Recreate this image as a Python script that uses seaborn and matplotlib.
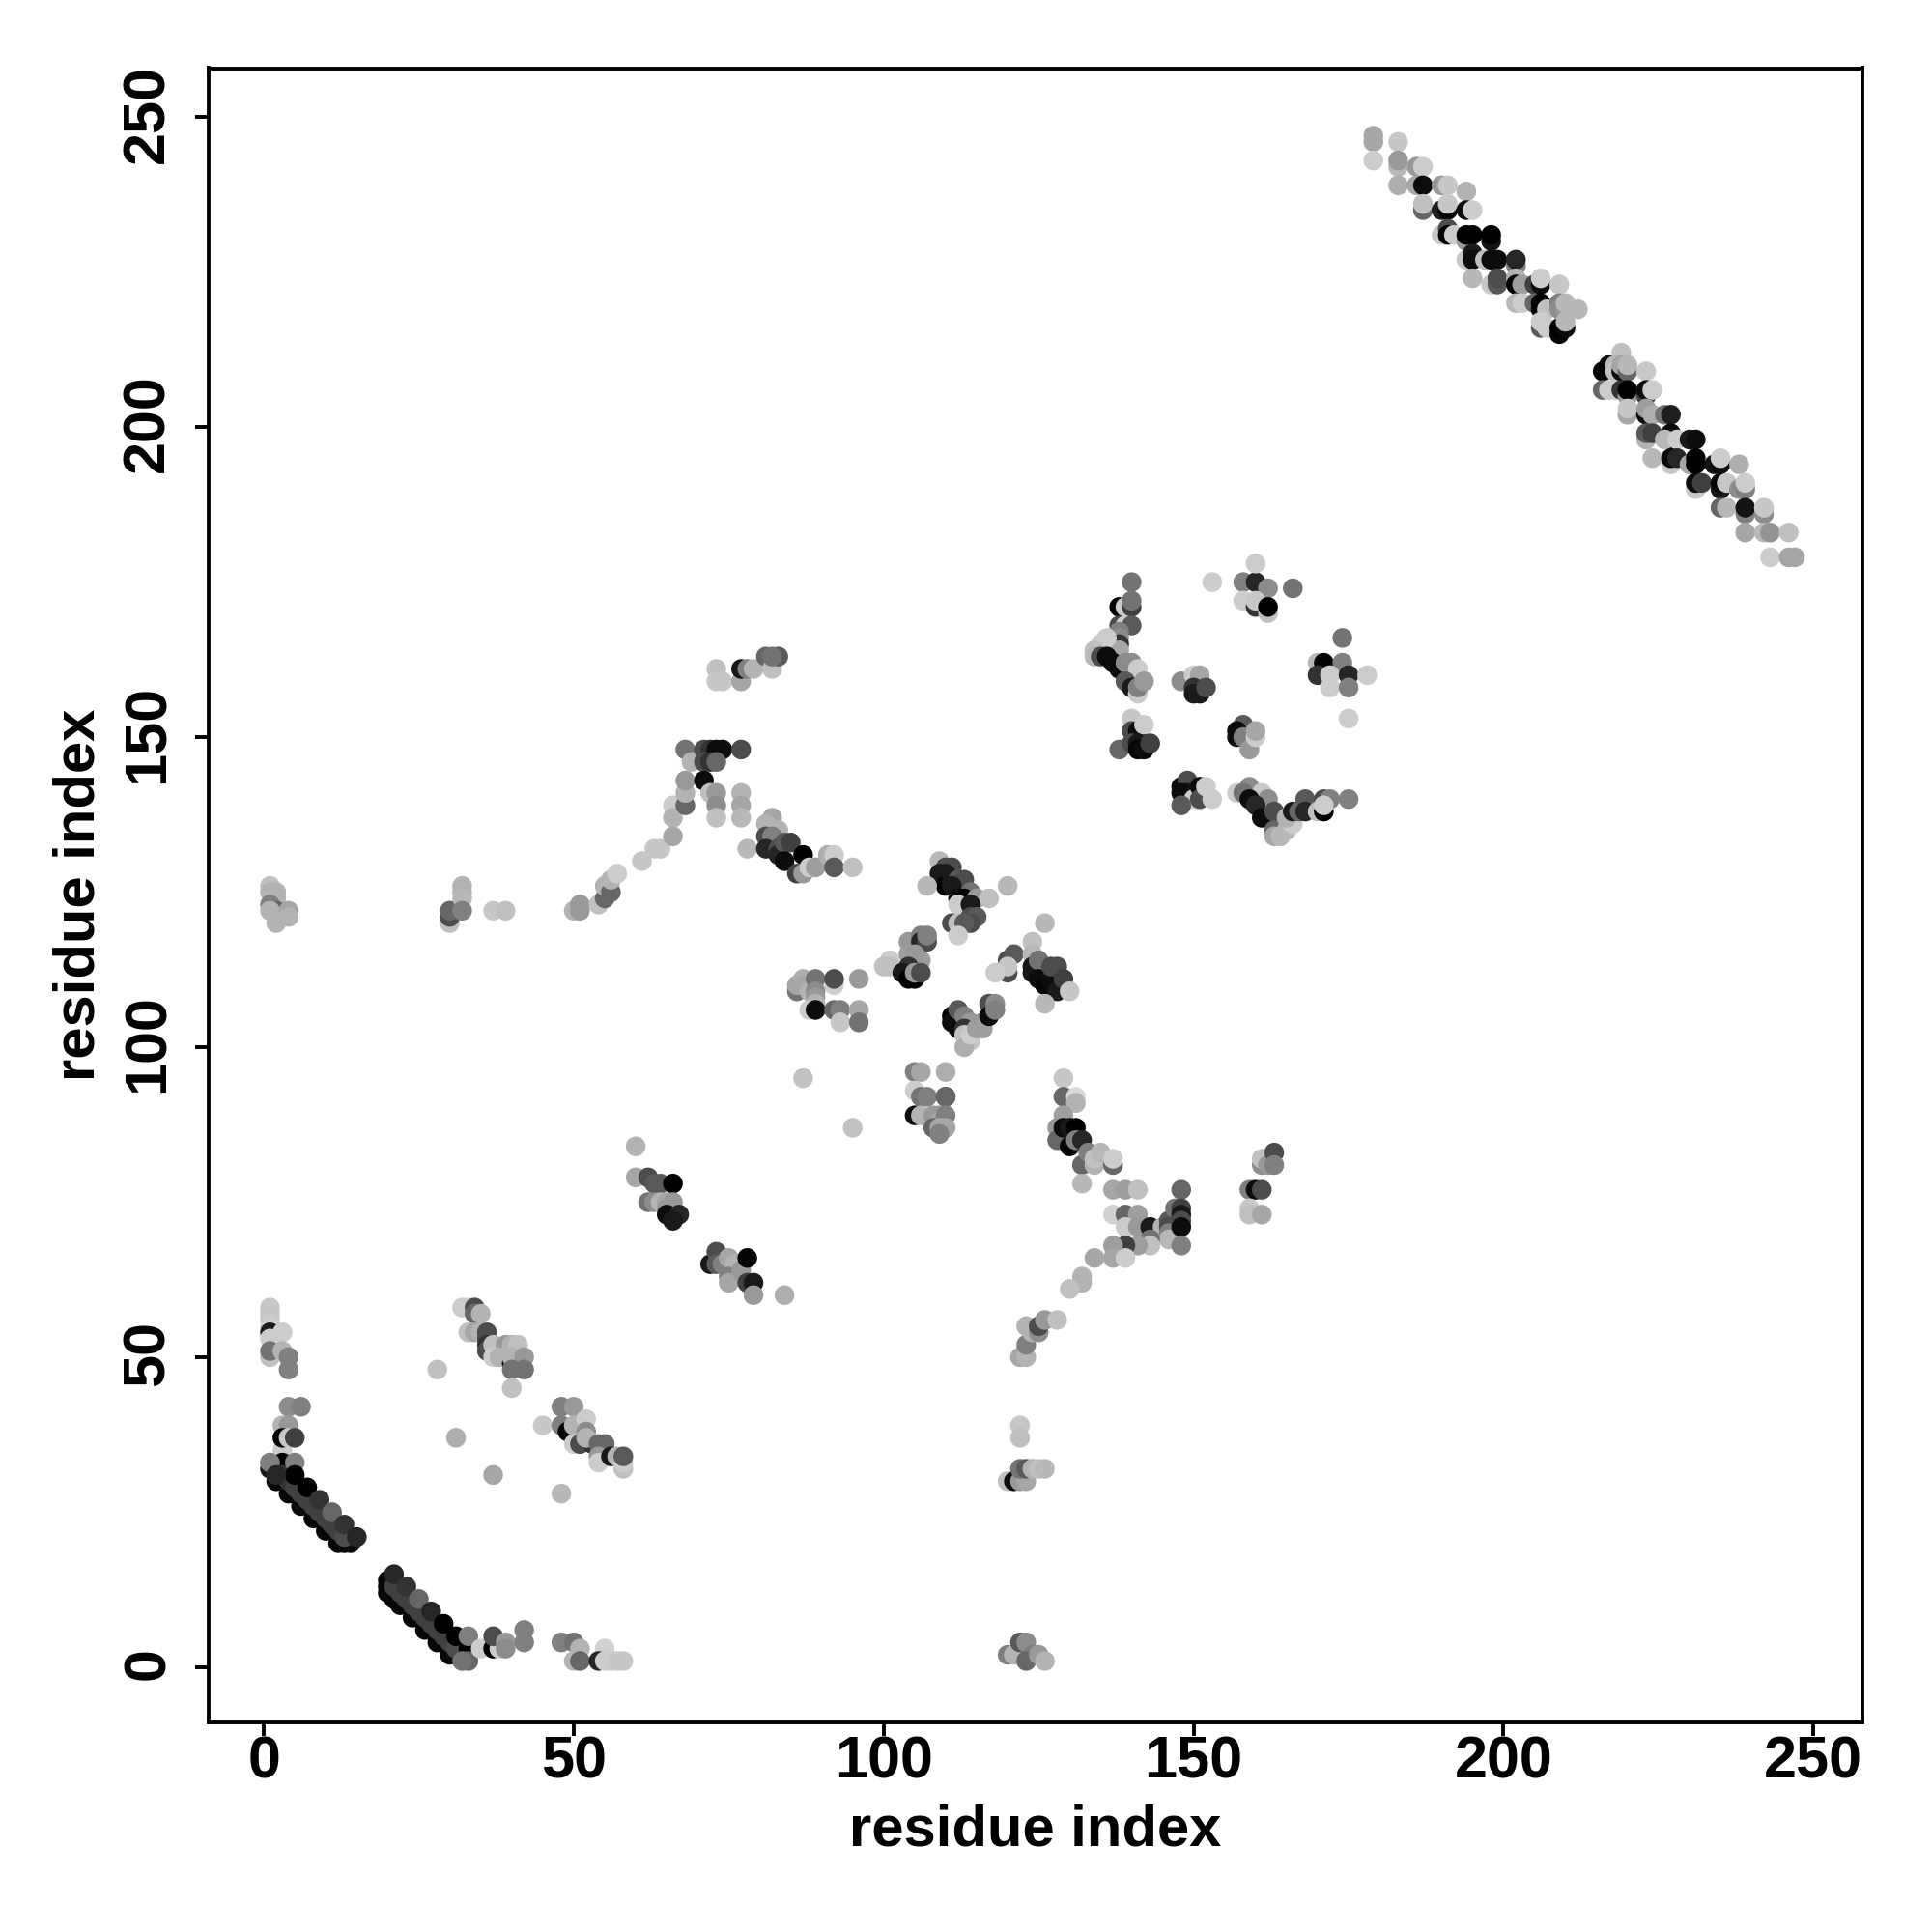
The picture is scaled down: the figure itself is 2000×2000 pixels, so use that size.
import pandas as pd
import seaborn as sns
import matplotlib
matplotlib.use("Agg")
import matplotlib.pyplot as plt
from matplotlib.transforms import ScaledTranslation

# (residue i, residue j, grey level), one list per patch
band_low = [(1,33,.45),(1,32,.1),(2,32,.2),(3,35,.8),(3,34,.8),(2,30,.03),(3,33,0),(3,31,.2),(4,28,.03),(4,30,.2),(5,29,.25),
            (6,26,.05),(6,28,.25),(7,27,.25),(8,24,.03),(8,26,.25),(9,25,.25),(10,22,.03),(10,24,.25),(11,23,.25),
            (12,20,.03),(13,20,.03),(14,20,.05),(12,22,.25),(13,21,.3),(5,33,.5),(5,31,0),(7,29,0),(9,27,.2),(11,25,.4),(13,23,.2),(15,21,.15),
            (1,33,.5),(2,31,.15)]
band_mid = [(20,14,.03),(20,13,.03),(20,12,.03),(21,11,.03),(22,10,.03),(24,8,.03),(26,6,.03),(28,4,.03),(30,2,.03),(31,2,.05),
            (21,13,.25),(22,12,.25),(23,11,.25),(24,10,.25),(25,9,.25),(26,8,.25),(27,7,.25),(28,6,.25),(29,5,.25),(30,4,.25),(31,3,.3),
            (21,15,.15),(23,13,.2),(25,11,.4),(27,9,.15),(29,7,0),(31,5,0),(33,3,0),(33,5,.5),(33,1,.4),(32,1,.45)]
low_right = [(35,3,.8),(37,3,0),(38,3,.8),(37,5,.3),(39,4,.6),(39,3,.55),(42,6,.5),(42,4,.5),(48,4,.5),(50,4,.45),(50,1,.7),(51,3,.7),(51,1,.4),
             (55,3,.82),(54,1,.15),(55,1,.8),(56,1,.8),(57,1,.78),(58,1,.78)]
left_top = [(1,58,.78),(1,57,.78),(1,56,.78),(1,55,.8),(1,54,.1),(3,54,.8),(1,53,.8),(1,50,.75),(1,51,.45),(3,51,.7),(4,50,.5),(4,48,.5),
            (4,42,.55),(6,42,.5),(3,39,.7),(4,39,.6),(3,37,0),(4,37,.78),(5,37,.25)]
mid_a = [(28,48,.75),(31,37,.68),(37,31,.65),(48,28,.72),(45,39,.78),
         (32,58,.8),(33,58,.8),(34,58,.3),(34,57,.4),(35,57,.7),(33,54,.75),(34,54,.65),(35,54,.7),(36,54,.3),(36,53,.3),(36,52,.2),(36,51,.3),
         (37,52,.75),(39,52,.6),(40,52,.7),(41,52,.75),(37,50,.8),(38,50,.7),(40,49,0),(40,50,.7),(42,50,.6),(40,48,.45),(42,48,.45),(40,45,.75)]
mid_b = [(48,42,.5),(48,39,.5),(50,42,.6),(49,38,0),(50,39,.7),(52,40,.8),(52,38,.55),(50,36,.8),(51,36,.3),(53,36,.2),(52,37,.7),(54,36,.4),(55,36,.4),
         (54,34,.6),(54,33,.8),(56,34,.1),(57,34,.7),(58,32,.75),(58,33,.8),(58,34,.35)]
ring_left = [(1,126,.75),(1,125,.7),(2,125,.7),(2,124,.7),(1,123,.5),(2,122,.4),(1,122,.7),(2,120,.7),(4,122,.65),(4,121,.7),
             (30,120,.75),(30,121,.3),(30,122,.4),(32,126,.7),(32,125,.7),(32,124,.72),(32,122,.5),(37,122,.78),(39,122,.75),
             (50,122,.7),(51,122,.6),(51,123,.6),(54,123,.75),(55,124,.4),(55,126,.7),(56,125,.4),(56,127,.7),(57,128,.8)]
ramp = [(61,130,.78),(63,132,.78),(64,132,.78),(66,134,.65),(66,139,.8),(66,137,.7),(68,139,.4),(68,141,.7),(68,143,.6),(68,148,.45),(69,146,.7),
        (71,148,.3),(72,148,.2),(74,148,.05),(73,148,.05),(77,148,.3),(71,146,.3),(72,146,.2),(73,146,.4),(71,143,.05),(72,141,.75),(73,141,.6),(73,139,.55),(73,137,.75),
        (77,141,.7),(77,139,.65),(77,137,.72),(78,132,.72),
        (73,161,.75),(73,159,.78),(74,159,.78),(77,159,.65),(77,161,.1),(78,161,.5),(79,161,.7),(81,163,.4),(82,161,.75),(83,163,.35),(82,163,.45)]
strand_a = [(82,137,.65),(83,135,.7),(81,136,.7),(81,134,.3),(82,134,.5),(81,132,.15),(83,132,.3),(83,131,.15),(84,133,.35),(85,133,.25),(84,130,.05),
            (87,131,0),(86,128,.25),(87,128,.6),(88,129,.8),(89,129,.62),(91,131,.68),(92,131,.8),(92,129,.35),(95,129,.75)]
helix_a = [(109,130,.72),(110,129,.3),(111,129,.3),(109,128,.1),(110,128,.1),(110,126,0),(111,127,.1),(107,126,.72),(112,127,.35),(113,127,.3),(111,126,.1),
           (114,125,.45),(112,124,.05),(113,124,0),(115,124,.6),(117,124,.75),(120,126,.72),(112,123,.8),(114,123,.1),
           (111,120,.3),(112,120,.75),(114,121,.3),(115,121,.35),(114,120,.3),(113,120,.35),(112,118,.8)]
helix_b = [(104,117,.6),(106,118,.5),(106,117,.15),(107,117,.3),(107,118,.5),(104,115,.62),(106,114,.62),(105,115,.6),(101,114,.8),(100,113,.75),(101,113,.75),
           (104,113,.2),(103,112,.1),(104,111,0),(105,111,0),(105,112,.6),(106,112,.3)]
block_a = [(86,109,.45),(86,110,.65),(87,111,.68),(87,110,.65),(88,109,.7),(89,111,.45),(89,109,.55),(89,108,.6),(92,110,.8),(92,111,.3),(96,111,.6),
           (89,107,.7),(88,106,.8),(89,106,.05),(92,106,.4),(93,106,.5),(96,106,.65),(93,104,.78),(96,104,.45)]
block_b = [(111,105,0),(111,104,.05),(112,103,.05),(112,106,.35),(113,105,.5),(114,104,.6),(113,103,.2),(113,102,.75),(114,101,.78),(113,100,.68),(114,102,.8),
           (115,103,.62),(116,104,.6),(116,103,.62),(117,107,.3),(117,105,.05),(118,107,.55),(118,106,.5)]
helix_c = [(120,114,.3),(121,115,.35),(120,112,.3),(120,113,.78),(118,112,.8),(124,117,.75),(126,120,.72),(124,115,.72),(124,113,.1),(124,112,.1),(125,114,.45),
           (125,111,.05),(126,110,.03),(127,111,.05),(127,113,.3),(128,113,.3),(128,109,.1),(129,111,.25),(130,109,.78),(126,107,.72)]
scatter_a = [(87,95,.76),(95,87,.76),(105,96,.5),(106,96,.65),(110,96,.68),(105,93,.8),(106,92,.45),(107,92,.5),(105,89,.05),(106,89,.7),(108,89,.6),(109,89,.6),
             (110,92,.2),(110,92,.4),(109,88,.65),(108,87,.4),(110,89,.5),(109,87,.65),(110,87,.65),(109,86,.5)]
strand_b = [(129,95,.78),(129,92,.4),(131,92,.85),(131,91,.7),(129,89,.62),(128,87,.6),(128,85,.4),(129,87,.05),(130,87,.1),(131,87,0),(130,84,.02),(131,85,.5),(132,85,.15),
            (132,81,.4),(133,83,.5),(134,81,.7),(134,82,.75),(135,83,.72),(137,81,.4),(137,82,.8),(132,78,.72)]
elbow = [(137,77,.65),(139,77,.62),(141,77,.75),(148,77,.4),(137,73,.82),(139,73,.4),(141,73,.62),(139,71,.8),(141,71,.6),(143,71,.1),(145,71,.7),
         (146,72,.35),(146,71,.3),(146,70,.5),(146,69,.72),(147,74,.45),(148,74,.25),(148,73,.1),(148,72,.3),(148,71,.05),(143,69,.45),(143,68,.75),(141,68,.62),
         (139,68,.25),(137,68,.62),(148,68,.5),(137,66,.65),(139,66,.8),(134,66,.65),(132,63,.7),(132,62,.7),(130,61,.75),(84,60,.68)]
strand_c = [(60,84,.7),(60,79,.65),(62,79,.3),(63,78,.35),(64,78,.35),(62,75,.45),(63,75,.55),(66,78,0),(64,75,.7),(65,75,.65),(66,75,.6),(65,74,.6),(65,73,.05),(67,73,.15),(66,72,.1),
            (72,65,.1),(73,67,.3),(73,65,.35),(74,65,.5),(75,66,.65),(76,65,.7),(75,63,.5),(75,62,.65),(77,64,.6),(78,66,.02),(78,62,.25),(79,62,.1),(79,60,.6)]
col_120 = [(122,39,.78),(122,37,.75),(120,30,.75),(121,30,.05),(122,30,.6),(123,30,.65),(122,32,.45),(123,32,.35),(124,32,.7),(125,32,.75),(126,32,.72),
           (122,50,.65),(123,50,.7),(123,55,.7),(123,52,.5),(124,54,.7),(125,54,.55),(125,55,.3),(126,56,.6),(128,56,.75),
           (120,2,.5),(121,2,.7),(122,4,.35),(123,4,.55),(124,2,.5),(123,1,.4),(125,2,.6),(126,1,.7),
           (159,77,.5),(160,77,.05),(161,77,.3),(159,74,.78),(159,73,.75),(161,73,.65),(161,81,.55),(161,82,.75),(162,81,.6),(163,83,.3),(163,81,.5)]
cl_top = [(140,175,.45),(153,175,.8),(158,175,.5),(160,175,.15),(160,178,.8),(162,174,.55),(166,174,.45),(158,172,.8),(160,171,.2),(160,172,.78),(162,170,.75),(162,171,0),
          (138,171,.02),(139,171,.8),(140,171,.25),(140,172,.45),(138,168,.3),(139,168,.8),(140,168,.35),(138,167,.5),(138,166,.55),(138,165,.2),(138,164,.65)]
cl_corner = [(136,166,.8),(135,165,.8),(134,164,.75),(134,163,.72),(135,163,.3),(136,163,.05),(137,162,.05),(138,161,.05),(139,162,.55),(140,162,.55),(141,161,.8),
             (139,159,.35),(140,158,.1),(141,157,.8),(141,158,.5),(142,159,.6),
             (148,159,.55),(150,160,.8),(151,160,.65),(150,158,.2),(150,157,.1),(151,157,.1),(152,158,.3)]
cl_right = [(170,162,.72),(171,162,.02),(174,166,.45),(174,162,.5),(170,160,.2),(172,160,.8),(175,160,.15),(178,160,.8),(172,158,.8),(175,158,.5),(175,153,.8),
            (140,153,.78),(140,151,.3),(141,151,.05),(142,152,.8),(138,148,.4),(140,149,.3),(141,149,.1),(141,148,.02),(142,148,.05),(143,149,.25),
            (158,152,.35),(157,151,.05),(157,150,.05),(158,150,.5),(159,148,.6),(160,150,.8),(160,151,.65)]
cl_bottom = [(148,142,.05),(149,143,.3),(149,141,.1),(148,141,.05),(150,140,.8),(151,142,.05),(151,140,.3),(152,142,.8),(153,140,.8),(148,139,.35),
             (157,141,.8),(159,142,.55),(158,141,.45),(161,141,.78),(162,140,.55),(159,140,.05),(160,139,.15),(161,137,.05),(163,138,.3),(163,135,.4),(163,134,.65),
             (164,134,.72),(165,135,.72),(166,136,.8),(165,137,.7),(166,138,.1),(167,138,.4),(168,140,.35),(168,138,.15),(171,140,.3),(172,140,.5),(175,140,.5),
             (170,138,.75),(171,138,0),(171,139,.8)]
diag_a = [(179,247,.65),(179,246,.65),(179,243,.8),(183,246,.78),(183,242,.72),(183,243,.6),(186,242,.6),(187,242,.8),(183,239,.68),(186,239,.65),(187,239,.05),
          (190,239,.6),(191,239,.78),(194,238,.7),(187,235,.4),(187,236,.75),(190,235,.12),(191,235,0),(191,236,.78),(194,235,.05),(195,235,.8),
          (190,231,.78),(191,232,.3),(191,231,0),(192,231,.8),(194,230,.6),(194,231,0),(195,231,0),(198,230,.08),(198,231,0),
          (194,227,.78),(195,228,.1),(195,227,.05),(197,227,.75),(198,227,.05),(199,227,.05),(202,226,.5),(202,227,.15),
          (195,224,.72),(198,223,.78),(199,223,.35),(199,224,.3),(202,224,.7),(202,223,0),(203,223,.62),(205,223,.25),(206,223,.05),(206,224,.8),(209,223,.78),
          (202,220,.72),(203,220,.8),(205,220,.4),(206,219,0),(206,220,0),(207,219,.75),(209,220,.5),(209,219,.55),(210,219,.6),(210,220,.72),(212,219,.72),
          (206,216,.35),(207,216,.8),(206,217,.8),(209,215,.02),(209,216,0),(210,216,.05),(210,217,.72)]
diag_b = [(219,212,.75),(217,210,.05),(216,209,.03),(218,210,.72),(218,209,.75),(219,209,.05),(219,210,.65),(220,209,.4),(220,210,.72),(223,209,.78),
          (216,206,.4),(217,206,.8),(218,206,.8),(219,206,.2),(220,205,.6),(220,206,0),(223,205,.25),(223,206,.05),(224,206,.8),
          (220,202,.65),(220,203,.78),(223,202,.05),(223,203,.62),(224,202,.68),(226,202,.45),(227,202,.12),
          (223,198,.7),(223,199,.35),(224,199,.25),(227,199,.05),(227,198,0),(226,198,.72),(228,198,.8),(230,198,.1),(231,198,.05),
          (224,195,.72),(227,194,.78),(227,195,.03),(228,195,.15),(230,194,.65),(231,195,0),(231,194,0),(234,194,.08),(235,194,.05),(235,195,.8),(238,194,.68),
          (231,190,.78),(231,191,.05),(232,191,.25),(235,190,.1),(235,191,.02),(236,191,.78),(238,190,.55),(239,190,.5),(239,191,.8),
          (235,187,.4),(236,187,.72),(239,186,.5),(239,187,.08),(242,186,.55),(242,187,.78),(239,183,.65),(242,183,.72),(243,183,.58),(246,183,.75),
          (243,179,.8),(246,179,.65),(247,179,.65)]

patches = [band_low, band_mid, low_right, left_top, mid_a, mid_b, ring_left, ramp, strand_a, helix_a, helix_b, block_a, block_b,
           helix_c, scatter_a, strand_b, elbow, strand_c, col_120, cl_top, cl_corner, cl_right, cl_bottom, diag_a, diag_b]
contacts = pd.DataFrame([p for patch in patches for p in patch], columns=["i", "j", "grey"])

tick_vals = [0, 50, 100, 150, 200, 250]

sns.set_style("white")
plt.rcParams["font.family"] = ["Liberation Sans", "DejaVu Sans"]
plt.rcParams["font.weight"] = "bold"

fig = plt.figure(figsize=(10, 10), dpi=200)
ax = fig.add_axes([216 / 2000, 1 - 1783 / 2000, 1712 / 2000, 1712.5 / 2000])

sns.scatterplot(data=contacts, x="i", y="j", hue="grey", palette="gray", hue_norm=(0, 1),
                s=54, linewidth=0, legend=False, ax=ax)

ax.set_xlim(-8.9, 257.9)
ax.set_ylim(-8.9, 257.9)
ax.set_xticks(tick_vals)
ax.set_yticks(tick_vals)
ax.tick_params(axis="both", length=5, width=1.4, color="black", labelsize=22, labelcolor="black", bottom=True, left=True)
ax.tick_params(axis="x", pad=0)
ax.tick_params(axis="y", pad=7)
plt.setp(ax.get_yticklabels(), rotation=90, va="center")
for lab in ax.get_yticklabels():
    lab.set_transform(lab.get_transform() + ScaledTranslation(0, 1.3 / 72, fig.dpi_scale_trans))
for side in ax.spines.values():
    side.set_visible(True)
    side.set_color("black")
    side.set_linewidth(1.4)
ax.set_xlabel("residue index", fontsize=21.5, fontweight="bold", color="black", labelpad=5)
ax.set_ylabel("residue index", fontsize=21.5, fontweight="bold", color="black", labelpad=6)

fig.savefig("out.png", dpi=200, facecolor="white")
